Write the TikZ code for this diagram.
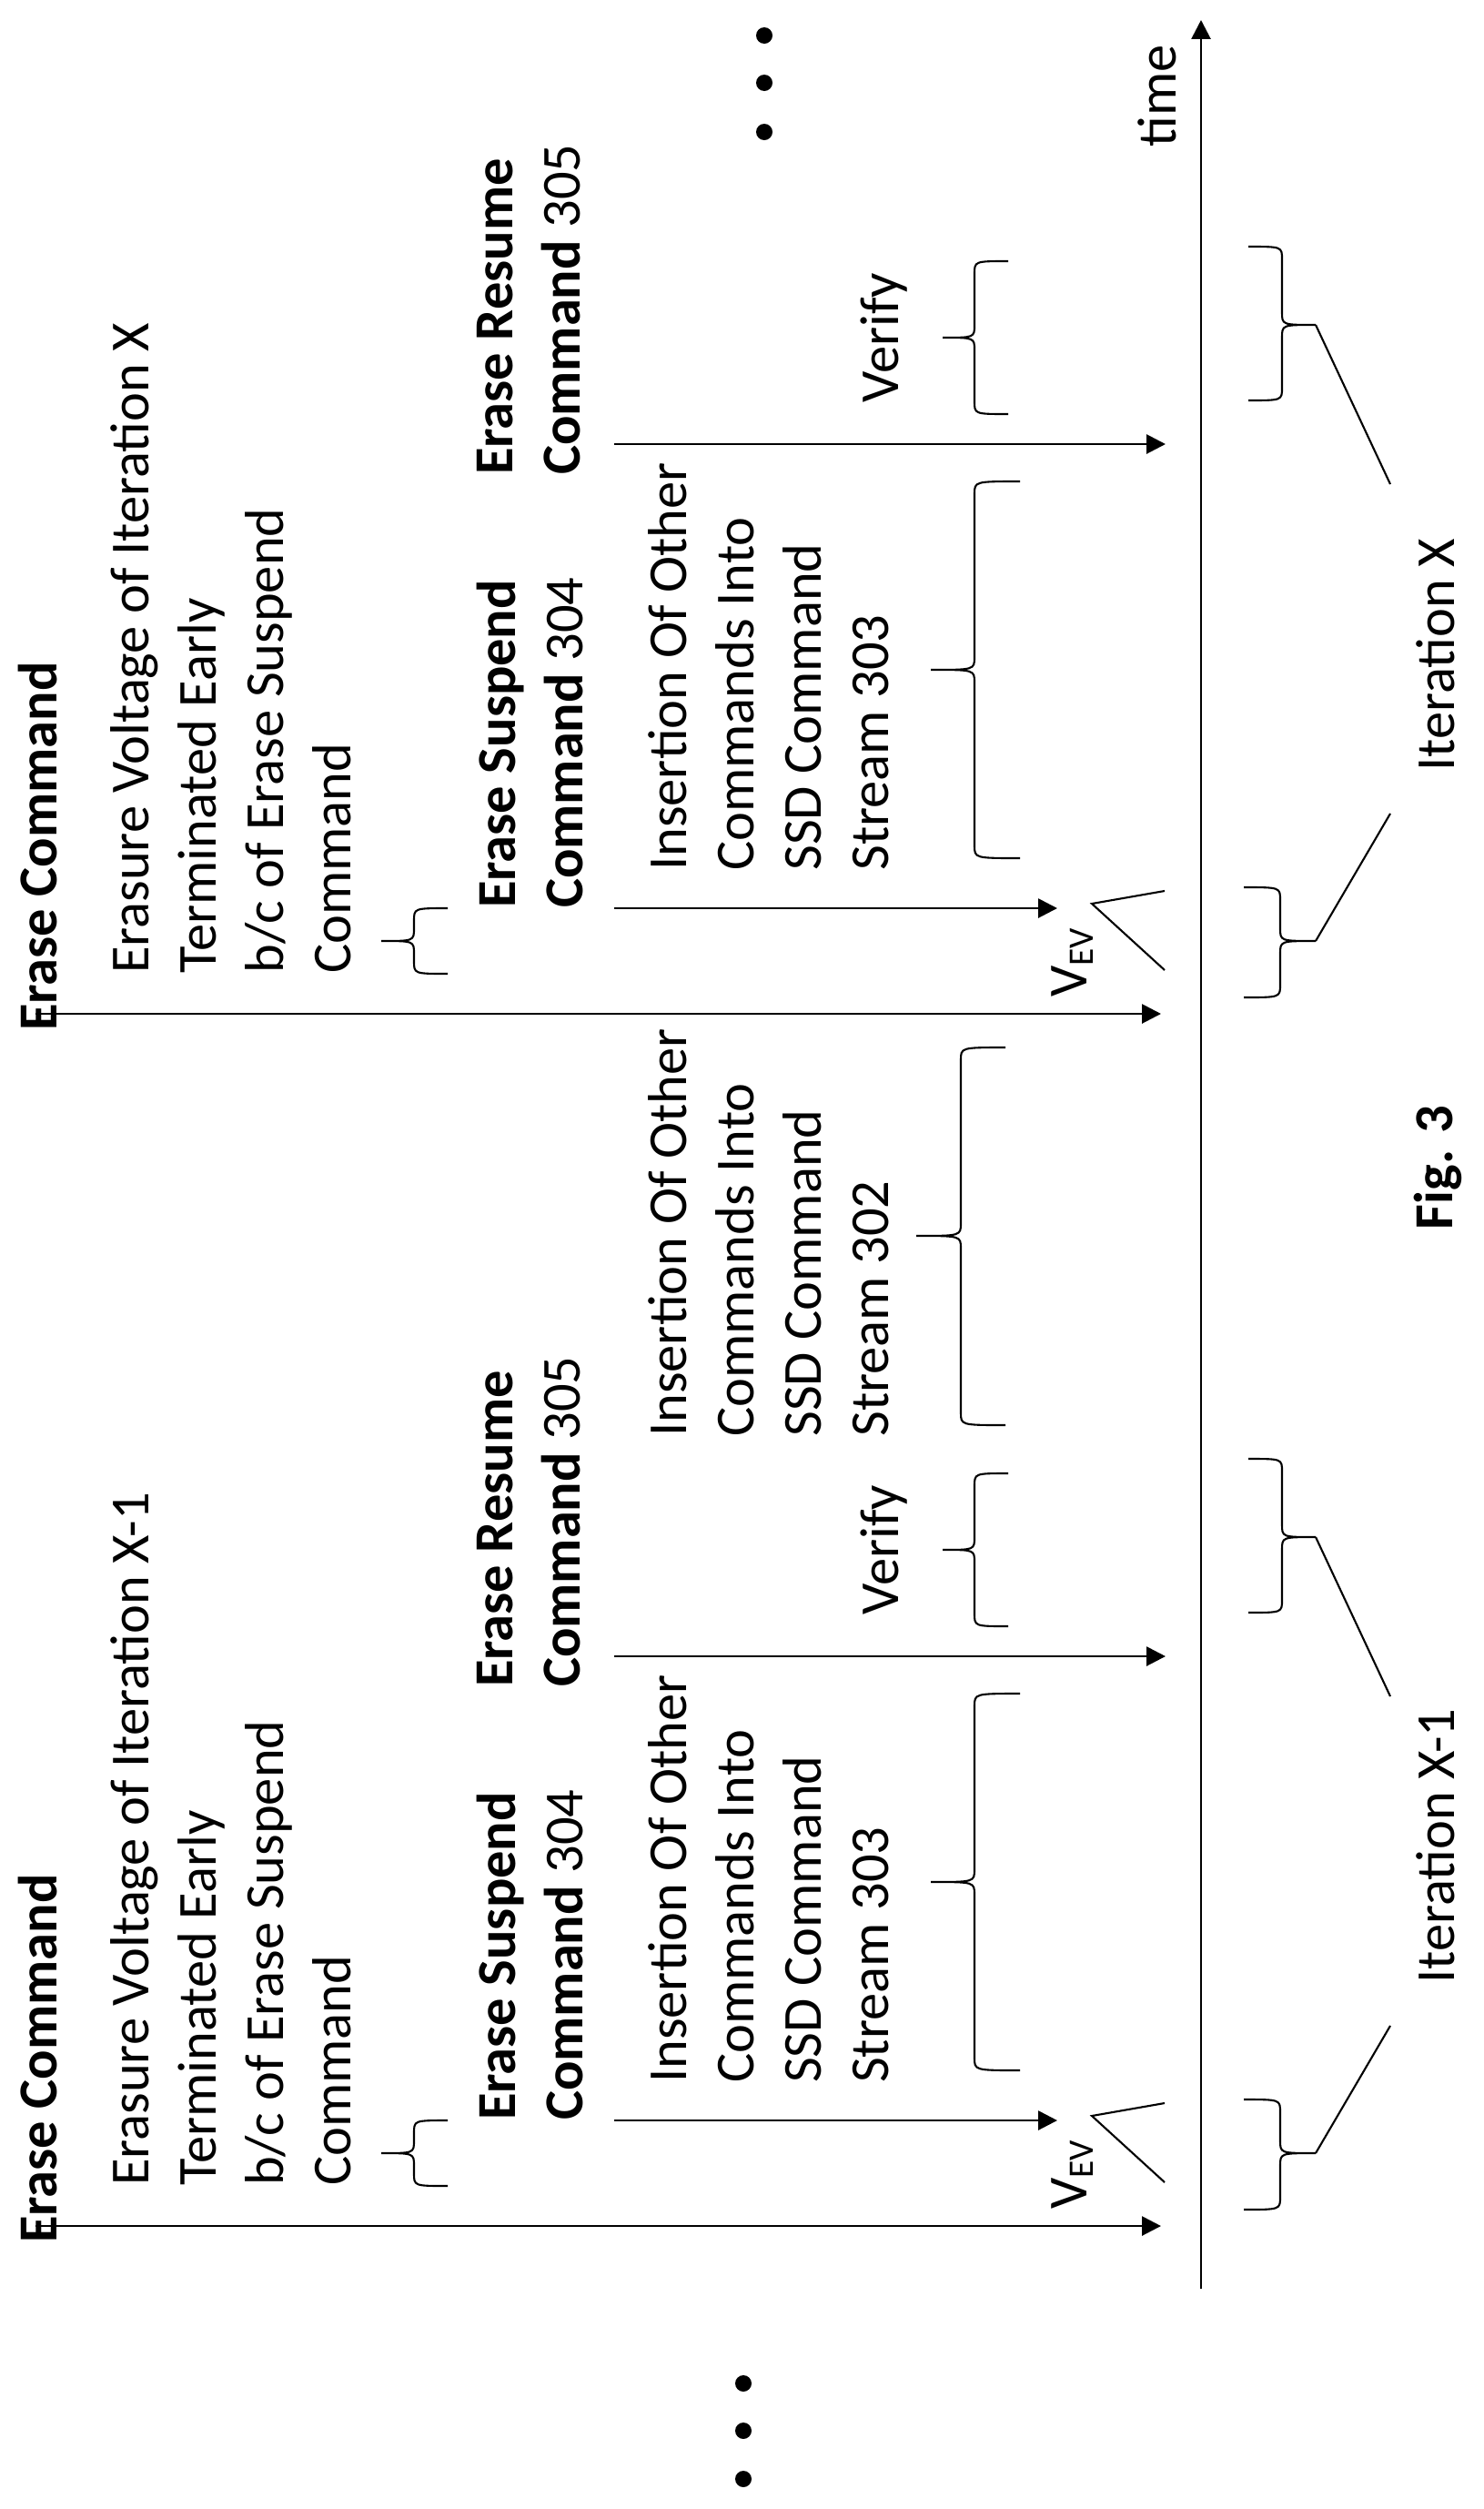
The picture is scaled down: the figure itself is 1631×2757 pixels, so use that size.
\documentclass[tikz,border=0pt]{standalone}
\usepackage{fontspec}
\setmainfont{Carlito}
\usetikzlibrary{arrows.meta}
\newcommand\mybrace[6]{% xe xv xt y1 yt y2
  \draw[brc] (#1,#4) .. controls (#2,#4) and (#2,#4) .. (#2,{#4+14}) -- (#2,{#5-14})
    .. controls (#2,#5) and (#2,#5) .. (#3,#5) .. controls (#2,#5) and (#2,#5) .. (#2,{#5+14})
    -- (#2,{#6-14}) .. controls (#2,#6) and (#2,#6) .. (#1,#6);}
\newcommand\mygroup[2]{%
  \node[txt,font=\bfseries\fontsize{43pt}{52.6pt}\selectfont] (ec#1) at (20,2465) {Erase Command};
  \node[txt] (ev#1) at (121,2402) {Erasure Voltage of Iteration #2\\Terminated Early\\b/c of Erase Suspend\\Command};
  \node[txt] (su#1) at (524,2330) {\textbf{Erase Suspend}\\\textbf{Command} 304};
  \node[txt] (re#1) at (524,1854) {\textbf{Erase Resume}\\\textbf{Command} 305};
  \node[txt] (in#1) at (712,2289) {Insertion Of Other\\Commands Into\\SSD Command\\Stream 303};
  \node[txt,anchor=north] (vf#1) at (946,1703) {Verify};
  \node[txt] (vv#1) at (1155,2428) {V\raisebox{-0.25ex}{\fontsize{28pt}{28pt}\selectfont EV}};
  \node[txt] (it#1) at (1556,2180) {Iteration #2};
  \coordinate (a1#1) at (39,2446); \coordinate (a2#1) at (1276,2446);
  \coordinate (b1#1) at (675,2330); \coordinate (b2#1) at (1162,2330);
  \coordinate (c1#1) at (675,1820); \coordinate (c2#1) at (1281,1820);
  \draw[arr] (a1#1) -- (a2#1);
  \draw[arr] (b1#1) -- (b2#1);
  \draw[arr] (c1#1) -- (c2#1);
  \coordinate (v0#1) at (1200,2325); \coordinate (v1#1) at (1280,2398); \coordinate (v2#1) at (1280,2311);
  \draw[thin1] (v1#1) -- (v0#1) -- (v2#1);
  \mybrace{492}{455}{419}{2330}{2366}{2402}
  \mybrace{1121}{1071}{1023}{1861}{2068}{2275}
  \mybrace{1108}{1071}{1036}{1619}{1703}{1787}
  \mybrace{1367}{1407}{1446}{2307}{2366}{2428}
  \mybrace{1372}{1409}{1446}{1603}{1689}{1772}
  \coordinate (t1#1) at (1446,1689); \coordinate (t2#1) at (1528,1864);
  \coordinate (t3#1) at (1446,2366); \coordinate (t4#1) at (1528,2226);
  \draw[thin1] (t1#1) -- (t2#1);
  \draw[thin1] (t3#1) -- (t4#1);
}
\begin{document}
\begin{tikzpicture}[x=0.25mm,y=-0.25mm,
  txt/.style={rotate=90,anchor=north west,align=left,inner sep=0pt,font=\fontsize{43pt}{52.6pt}\selectfont},
  arr/.style={line width=2pt,-{Triangle[length=5.2mm,width=5.2mm]}},
  thin1/.style={line width=1.5pt},
  brc/.style={line width=1.5pt}]
\useasboundingbox (0,0) rectangle (1631,2757);
\fill[white] (0,0) rectangle (1631,2757);
\mygroup{L}{X-1}
\begin{scope}[shift={(0,-1332)}]
\mygroup{R}{X}
\end{scope}
% stream 302
\node[txt] (in302) at (712,1579) {Insertion Of Other\\Commands Into\\SSD Command\\Stream 302};
\mybrace{1105}{1056}{1007}{1151}{1358}{1566}
% timeline
\coordinate (tl0) at (1320,2515); \coordinate (tl1) at (1320,22);
\draw[arr] (tl0) -- (tl1);
\node[txt,anchor=north] (time) at (1250,105) {time};
\node[txt,anchor=north,font=\bfseries\fontsize{43pt}{52.6pt}\selectfont] (fig) at (1554,1283) {Fig. 3};
\foreach \yy [count=\i] in {39,91,145} \fill (840,\yy) circle (9);
\foreach \yy [count=\i] in {2619,2671,2724} \fill (817,\yy) circle (9);
\end{tikzpicture}
\end{document}
